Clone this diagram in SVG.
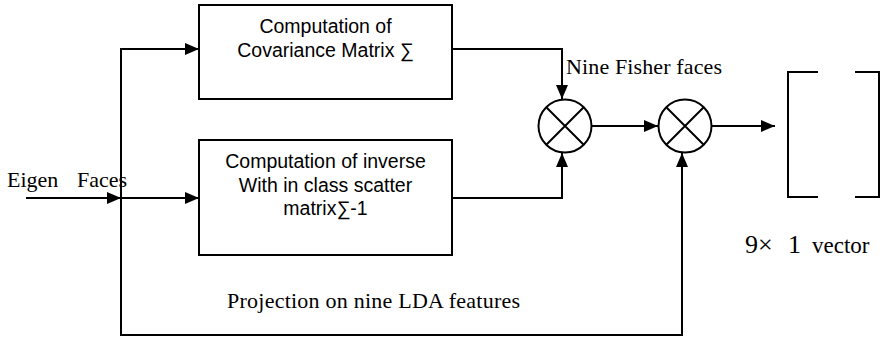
<svg xmlns="http://www.w3.org/2000/svg" width="883" height="338" viewBox="0 0 883 338">
<style>
.box{fill:#fff;stroke:#000;stroke-width:2}
.ln{fill:none;stroke:#000;stroke-width:2}
.sans{font-family:"Liberation Sans",Arial,sans-serif;font-size:19.5px;fill:#000;text-anchor:middle}
.serif{font-family:"Liberation Serif","Times New Roman",serif;font-size:22px;fill:#000}
</style>
<defs>
<marker id="ah" markerUnits="userSpaceOnUse" markerWidth="14" markerHeight="12" refX="14" refY="6" orient="auto">
<path d="M0,0 L14,6 L0,12 z" fill="#000"/>
</marker>
</defs>
<rect width="883" height="338" fill="#fff"/>
<g id="connectors">
<path class="ln" d="M26,198 H121" marker-end="url(#ah)"/>
<path class="ln" d="M121,198 H199" marker-end="url(#ah)"/>
<path class="ln" d="M121,198 V49 H199" marker-end="url(#ah)"/>
<path class="ln" d="M121,198 V335 H682 V153" marker-end="url(#ah)"/>
<path class="ln" d="M452,49 H562 V99" marker-end="url(#ah)"/>
<path class="ln" d="M452,198 H562 V153" marker-end="url(#ah)"/>
<path class="ln" d="M592,126 H658" marker-end="url(#ah)"/>
<path class="ln" d="M712,126 H775" marker-end="url(#ah)"/>
</g>
<g id="covariance">
<rect class="box" x="199" y="5" width="253" height="94"/>
<text class="sans" x="325.5" y="33">Computation of</text>
<text class="sans" x="325.5" y="57">Covariance Matrix ∑</text>
</g>
<g id="inverse">
<rect class="box" x="199" y="140" width="253" height="115"/>
<text class="sans" x="325.5" y="168">Computation of inverse</text>
<text class="sans" x="325.5" y="191.5">With in class scatter</text>
<text class="sans" x="325.5" y="215">matrix∑-1</text>
</g>
<g id="mult1">
<circle class="ln" cx="565" cy="126" r="26.5"/>
<path class="ln" d="M546.3,107.3 L583.7,144.7 M583.7,107.3 L546.3,144.7"/>
</g>
<g id="mult2">
<circle class="ln" cx="685" cy="126" r="26.5"/>
<path class="ln" d="M666.3,107.3 L703.7,144.7 M703.7,107.3 L666.3,144.7"/>
</g>
<g id="vector">
<path class="ln" d="M818,72 H788 V197 H818"/>
<path class="ln" d="M855,72 H879 V197 H855"/>
<text class="serif" y="253"><tspan x="745" font-size="26">9×</tspan><tspan x="788" font-size="26">1</tspan><tspan x="812" font-size="23">vector</tspan></text>
</g>
<g id="labels">
<text class="serif" y="187"><tspan x="7">Eigen</tspan><tspan x="77">Faces</tspan></text>
<text class="serif" x="566" y="74" textLength="156">Nine Fisher faces</text>
<text class="serif" x="227" y="308" textLength="293">Projection on nine LDA features</text>
</g>
</svg>
